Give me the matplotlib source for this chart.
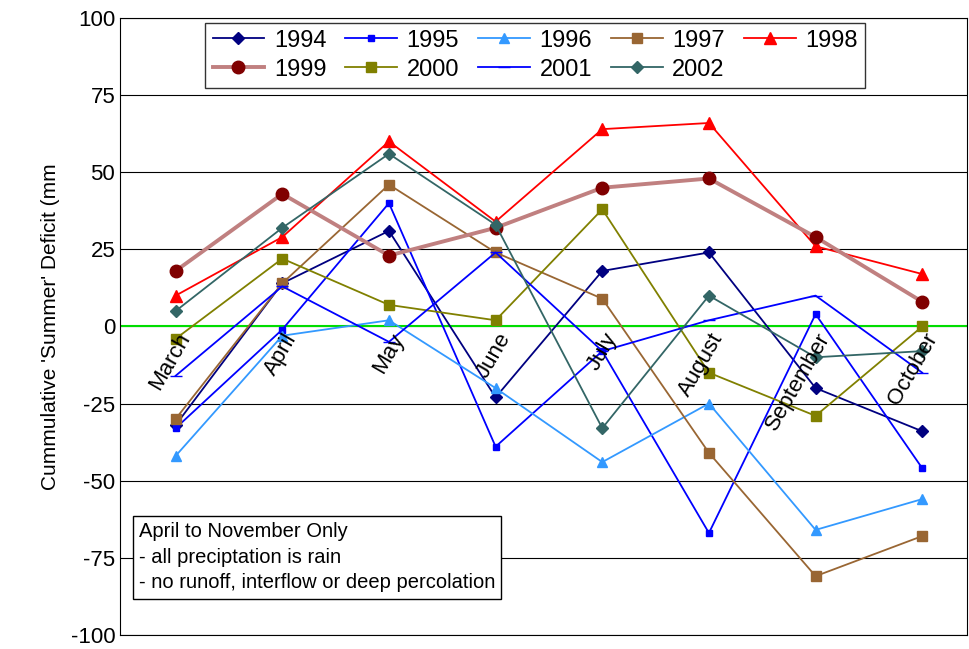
import matplotlib.pyplot as plt
from matplotlib.lines import Line2D

plt.rcParams['axes.unicode_minus'] = False
plt.rcParams['font.family'] = ['Liberation Sans', 'DejaVu Sans']

months = ["March", "April", "May", "June", "July", "August", "September", "October"]

y1994 = [-32, 14, 31, -23, 18, 24, -20, -34]
y1995 = [-33, -1, 40, -39, -8, -67, 4, -46]
y1996 = [-42, -3, 2, -20, -44, -25, -66, -56]
y1997 = [-30, 14, 46, 24, 9, -41, -81, -68]
y1998 = [10, 29, 60, 34, 64, 66, 26, 17]
y1999 = [18, 43, 23, 32, 45, 48, 29, 8]
y2000 = [-4, 22, 7, 2, 38, -15, -29, 0]
y2001 = [-16, 13, -5, 24, -8, 2, 10, -15]
y2002 = [5, 32, 56, 33, -33, 10, -10, -8]

series = [
    ("1994", y1994, "#000080", "D", "#000080", 1.3, 6),
    ("1995", y1995, "#0000FF", "s", "#0000FF", 1.3, 5),
    ("1996", y1996, "#3399FF", "^", "#3399FF", 1.3, 7),
    ("1997", y1997, "#996633", "s", "#996633", 1.3, 7),
    ("1998", y1998, "#FF0000", "^", "#FF0000", 1.3, 8),
    ("1999", y1999, "#993366", "o", "#800000", 2.8, 9),
    ("2000", y2000, "#808000", "s", "#808000", 1.3, 7),
    ("2001", y2001, "#0000FF", "_", "#0000FF", 1.3, 9),
    ("2002", y2002, "#336666", "D", "#336666", 1.3, 6),
]

fig = plt.figure(figsize=(9.69, 6.49), dpi=100)
ax = fig.add_axes([0.124, 0.022, 0.874, 0.95])
x = list(range(len(months)))

ax.set_xlim(-0.52, len(months) - 0.58)
ax.set_ylim(-100, 100)
ax.set_yticks(range(-100, 101, 25))
for v in range(-100, 101, 25):
    ax.axhline(v, color="black", lw=0.8, zorder=0)
ax.axhline(0, color="#00DD00", lw=1.5, zorder=1)
ax.set_xticks([])
ax.tick_params(axis="y", labelsize=16, length=0)
for s in ax.spines.values():
    s.set_color("black")

handles = {}
for name, vals, lc, mk, mc, lw, ms in series:
    col = "#C08080" if name == "1999" else lc
    ax.plot(x, vals, color=col, lw=lw, marker=mk, markersize=ms,
            markerfacecolor=mc, markeredgecolor=mc, zorder=3)
    handles[name] = Line2D([], [], color=col, lw=lw, marker=mk, markersize=ms,
                           markerfacecolor=mc, markeredgecolor=mc)

for i, m in enumerate(months):
    ax.text(i + 0.18, -1, m, rotation=60, ha="right", va="top", fontsize=16, zorder=4)

ax.set_ylabel("Cummulative 'Summer' Deficit (mm", fontsize=15, labelpad=8)

# legend filled column-wise; reorder so rows read 1994..1998 / 1999..2002
order = ["1994", "1999", "1995", "2000", "1996", "2001", "1997", "2002", "1998"]
leg = ax.legend([handles[k] for k in order], order, ncol=5, loc="upper center",
                bbox_to_anchor=(0.49, 1.012), fontsize=17, frameon=True, fancybox=False,
                edgecolor="black", handlelength=2.2, columnspacing=0.8,
                handletextpad=0.4, borderpad=0.3, labelspacing=0.3)
leg.get_frame().set_linewidth(1)

ax.text(0.022, 0.075, "April to November Only\n- all preciptation is rain\n- no runoff, interflow or deep percolation",
        transform=ax.transAxes, fontsize=14.5, linespacing=1.45,
        bbox=dict(boxstyle="square,pad=0.3", fc="white", ec="black"), zorder=5)

fig.savefig("out.png", dpi=100)
